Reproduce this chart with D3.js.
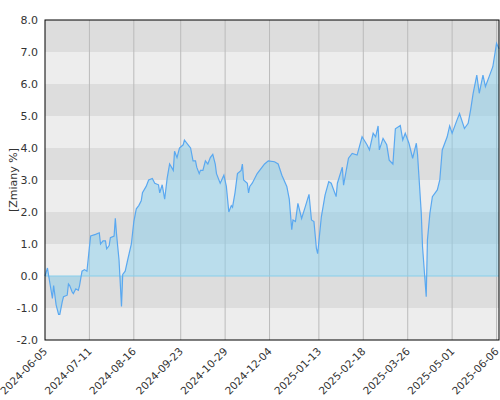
<!DOCTYPE html>
<html><head><meta charset="utf-8">
<script src="https://cdn.jsdelivr.net/npm/d3@7"></script>
<style>body{margin:0;background:#fff}text{font-family:"DejaVu Sans",sans-serif}</style>
</head><body>
<svg id="c" width="500" height="400"></svg>
<script>
// days since 2024-06-05 and change in %
const startDate = "2024-06-05";
const days = [0,2,3,6,7,9,11,12,14,15,18,19,20,22,23,25,27,28,30,32,34,36,37,41,44,45,47,49,50,52,53,56,57,58,60,62,63,65,67,70,72,74,76,78,79,82,84,87,89,92,93,95,97,99,101,104,105,107,109,112,113,116,118,120,122,123,125,126,128,130,132,134,136,138,139,142,145,147,149,151,152,154,156,159,160,161,164,165,
  166,168,172,176,178,181,186,189,192,196,198,200,201,203,205,208,211,214,216,218,220,221,224,227,230,232,236,237,241,242,246,249,253,257,261,263,266,268,270,271,274,277,279,282,284,288,290,292,295,298,301,302,305,306,309,310,312,314,318,320,322,326,328,330,334,336,340,343,345,347,350,352,355,357,360,363,366,368];
const values = [0,0.25,0,-0.7,-0.3,-0.9,-1.2,-1.2,-0.8,-0.65,-0.6,-0.25,-0.3,-0.5,-0.55,-0.4,-0.45,-0.3,0.15,0.2,0.15,0.9,1.25,1.3,1.35,1.0,1.1,1.1,0.85,0.95,1.2,1.25,1.8,1.3,0.5,-0.95,0.05,0.15,0.5,1.0,1.7,2.1,2.2,2.35,2.6,2.8,3.0,3.05,2.9,2.85,2.6,2.85,2.4,3.05,3.5,3.3,3.9,3.7,4.0,4.1,4.25,4.1,4.0,3.6,3.6,3.4,3.2,3.3,3.3,3.6,3.5,3.7,3.8,3.5,3.2,2.9,3.15,2.8,2.0,2.2,2.15,2.6,3.2,3.3,3.5,3.0,2.9,2.6,
  2.8,2.9,3.2,3.4,3.5,3.6,3.57,3.5,3.15,2.8,2.4,1.45,1.75,1.7,2.27,1.8,2.17,2.55,1.75,1.7,0.86,0.7,1.85,2.53,2.95,2.9,2.48,2.9,3.4,2.84,3.68,3.83,3.78,4.35,4.1,3.94,4.46,4.35,4.69,3.94,4.3,4.1,3.62,3.5,4.6,4.7,4.25,4.46,4.15,3.68,4.15,3.78,1.96,0.92,-0.65,1.13,1.96,2.48,2.69,3.0,3.94,4.35,4.69,4.46,4.88,5.08,4.61,4.77,5.19,5.7,6.28,5.71,6.28,5.92,6.23,6.54,7.27,7.1];
const tickDates = ["2024-06-05","2024-07-11","2024-08-16","2024-09-23","2024-10-29","2024-12-04","2025-01-13","2025-02-18","2025-03-26","2025-05-01","2025-06-06"];
const yTicks = [-2,-1,0,1,2,3,4,5,6,7,8];

const parse = d3.timeParse("%Y-%m-%d");
const t0 = parse(startDate);
const data = days.map((d, i) => ({ date: d3.timeDay.offset(t0, d), v: values[i] }));

const svg = d3.select("#c");
const m = { l: 45, r: 1, t: 20, b: 60 };
const W = 500, H = 400;
const x = d3.scaleTime().domain([t0, d3.timeDay.offset(t0, 368)]).range([m.l, W - m.r]);
const y = d3.scaleLinear().domain([-2, 8]).range([H - m.b, m.t]);

// alternating bands
svg.append("g").selectAll("rect").data(yTicks.slice(0, -1)).join("rect")
  .attr("x", m.l).attr("width", W - m.r - m.l)
  .attr("y", d => y(d + 1)).attr("height", d => y(d) - y(d + 1))
  .attr("fill", d => (d % 2 === 0) ? "#ededed" : "#dddddd");

// vertical grid
svg.append("g").selectAll("line").data(tickDates.slice(1)).join("line")
  .attr("x1", d => x(parse(d))).attr("x2", d => x(parse(d)))
  .attr("y1", m.t).attr("y2", H - m.b).attr("stroke", "#bbb").attr("stroke-width", 1);

const area = d3.area().x(d => x(d.date)).y0(y(0)).y1(d => y(d.v));
svg.append("path").datum(data).attr("d", area).attr("fill", "rgba(135,206,235,0.5)");
svg.append("line").attr("x1", m.l).attr("x2", W - m.r).attr("y1", y(0)).attr("y2", y(0))
  .attr("stroke", "#87ceeb").attr("stroke-width", 1);
const line = d3.line().x(d => x(d.date)).y(d => y(d.v));
svg.append("path").datum(data).attr("d", line).attr("fill", "none").attr("stroke", "#5aa8f0").attr("stroke-width", 1.2);

// frame
svg.append("rect").attr("x", m.l).attr("y", m.t).attr("width", W - m.r - m.l).attr("height", H - m.b - m.t)
  .attr("fill", "none").attr("stroke", "#000").attr("stroke-width", 1);

// y axis labels
svg.append("g").selectAll("text").data(yTicks).join("text")
  .attr("x", 38).attr("y", d => y(d) + 4).attr("text-anchor", "end")
  .attr("font-size", 11).attr("fill", "#333").text(d => d.toFixed(1));

svg.append("text").attr("transform", "translate(17,180) rotate(-90)")
  .attr("text-anchor", "middle").attr("font-size", 11).attr("fill", "#333").text("[Zmiany %]");

// x labels
svg.append("g").selectAll("text").data(tickDates).join("text")
  .attr("transform", d => `translate(${x(parse(d)) + 3},${H - m.b + 12}) rotate(-45)`)
  .attr("text-anchor", "end").attr("font-size", 10.5).attr("fill", "#333").text(d => d);
</script>
</body></html>
